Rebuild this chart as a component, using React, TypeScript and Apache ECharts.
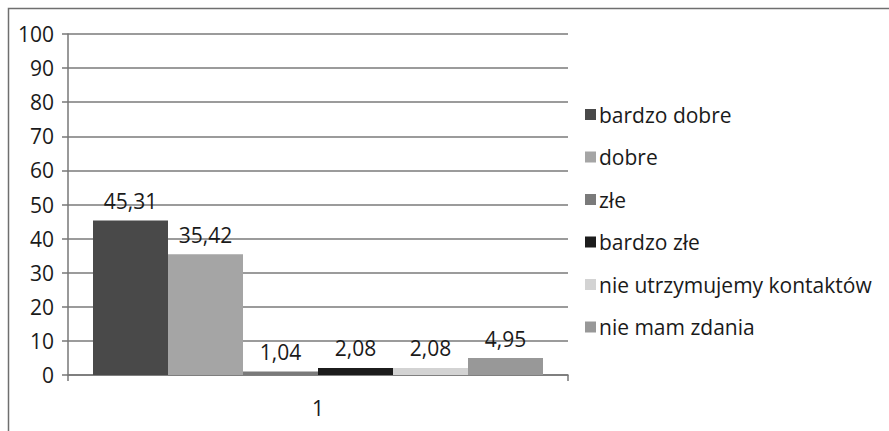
import React, { useEffect, useRef } from "react";
import * as echarts from "echarts";

const categories = ["1"];
const seriesNames = [
  "bardzo dobre",
  "dobre",
  "złe",
  "bardzo złe",
  "nie utrzymujemy kontaktów",
  "nie mam zdania",
];
const seriesValues = [45.31, 35.42, 1.04, 2.08, 2.08, 4.95];
const seriesColors = ["#494949", "#a5a5a5", "#7a7a7a", "#1c1c1c", "#d3d3d3", "#989898"];
const yTicks = { min: 0, max: 100, interval: 10 };

export default function App() {
  const ref = useRef<HTMLDivElement>(null);
  useEffect(() => {
    document.body.style.margin = "0";
    const chart = echarts.init(ref.current!, null, { renderer: "svg" });
    const font = "'Open Sans', 'Liberation Sans', sans-serif";
    chart.setOption({
      animation: false,
      backgroundColor: "#ffffff",
      textStyle: { fontFamily: font },
      graphic: [
        {
          type: "polyline",
          shape: { points: [[8.5, 431], [8.5, 8.5], [889, 8.5]] },
          style: { fill: "none", stroke: "#6f6f6f", lineWidth: 1.5 },
          silent: true,
        },
      ],
      grid: { left: 68, right: 321, top: 34, bottom: 56, containLabel: false },
      legend: {
        orient: "vertical",
        left: 580,
        top: 99,
        itemWidth: 11,
        itemHeight: 11,
        itemGap: 21.5,
        icon: "rect",
        textStyle: { fontSize: 21, color: "#1a1a1a", fontFamily: font, padding: [0, 0, 0, -2] },
        data: seriesNames,
      },
      xAxis: {
        type: "category",
        data: categories,
        axisLine: { lineStyle: { color: "#777", width: 1.5 } },
        axisTick: { show: true, length: 6, lineStyle: { color: "#777", width: 1.5 } },
        axisLabel: { fontSize: 21, color: "#1a1a1a", margin: 22 },
      },
      yAxis: {
        type: "value",
        min: yTicks.min,
        max: yTicks.max,
        interval: yTicks.interval,
        axisLine: { show: true, lineStyle: { color: "#777", width: 1.5 } },
        axisTick: { show: true, length: 6, lineStyle: { color: "#777", width: 1.5 } },
        axisLabel: { fontSize: 21, color: "#1a1a1a", margin: 14 },
        splitLine: { lineStyle: { color: "#7a7a7a", width: 1.5 } },
      },
      series: seriesNames.map((name, i) => ({
        name,
        type: "bar",
        data: [seriesValues[i]],
        barGap: "0%",
        barCategoryGap: "10%",
        itemStyle: { color: seriesColors[i] },
        label: {
          show: true,
          position: "top",
          distance: 9,
          fontSize: 21,
          color: "#1a1a1a",
          formatter: (p: any) => String(p.value).replace(".", ","),
        },
      })),
    });
    return () => chart.dispose();
  }, []);
  return <div ref={ref} style={{ width: 889, height: 431 }} />;
}
